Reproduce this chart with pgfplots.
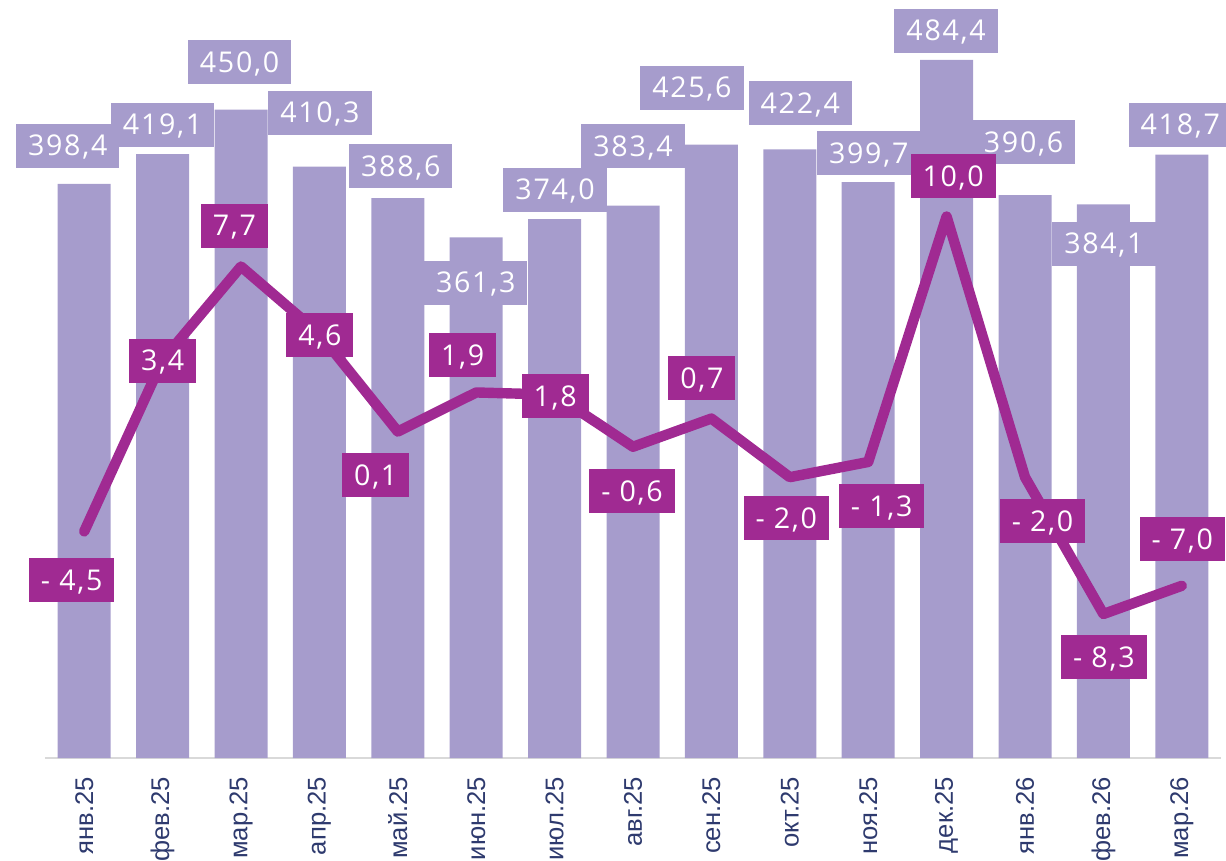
\documentclass[border=0pt]{standalone}
\usepackage{fontspec}
\setmainfont{Liberation Sans}
\newfontfamily\labfont[LetterSpace=6]{Open Sans}
\usepackage{pgfplots}
\usepackage{pgfplotstable}
\pgfplotsset{compat=1.18}
\definecolor{barcol}{HTML}{A69CCC}
\definecolor{linecol}{HTML}{A02A92}
\definecolor{tickcol}{HTML}{2E3A6E}
\definecolor{axcol}{HTML}{D9D9D9}

\pgfplotstableread{
x v dx dy lab
0 398.4 -8.25 18.95 398,4
1 419.1 0 14.55 419,1
2 450.0 -0.75 23.75 450,0
3 410.3 0.25 26.9 410,3
4 388.6 1.5 16 388,6
5 361.3 -0.25 -22.8 361,3
6 374.0 0.25 14.55 374,0
7 383.4 0 29.75 383,4
8 425.6 -9.75 28.35 425,6
9 422.4 5.25 23.15 422,4
10 399.7 0.25 14.5 399,7
11 484.4 -0.25 14.5 484,4
12 390.6 -0.75 26.55 390,6
13 384.1 0.25 -19.75 384,1
14 418.7 -0.75 14.85 418,7
}\bartable

\pgfplotstableread{
x v dx dy lab
0 -4.5 -6.25 -24.3 {- 4,5}
1 3.4 0 -0.55 3,4
2 7.7 -3.25 20.25 7,7
3 4.6 0.25 -0.6 4,6
4 0.1 -11 -21.75 0,1
5 1.9 -6.75 18.7 1,9
6 1.8 0.25 -0.7 1,8
7 -0.6 -0.5 -22.15 {- 0,6}
8 0.7 -4.75 20.25 0,7
9 -2.0 -1.75 -20.45 {- 2,0}
10 -1.3 6.75 -22.05 {- 1,3}
11 10.0 3.25 20.25 10,0
12 -2.0 8.75 -21.95 {- 2,0}
13 -8.3 0.25 -21.5 {- 8,3}
14 -7.0 0.25 23.35 {- 7,0}
}\linetable

\begin{document}
\begin{tikzpicture}
\pgfplotsset{
  lblstyle/.style={
    point meta=explicit symbolic,
    nodes near coords,
    visualization depends on={\thisrow{dx}\as\dx},
    visualization depends on={\thisrow{dy}\as\dy},
    every node near coord/.append style={
      anchor=center, xshift=\dx pt, yshift=\dy pt,
      fill=#1, text=white, inner xsep=6pt, inner ysep=0pt,
      minimum height=22pt, text height=10pt, text depth=0pt,
      font=\labfont\fontsize{14.3}{14.3}\selectfont},
  },
}
\begin{axis}[
  name=ax,
  at={(0,0)}, anchor=south west,
  scale only axis, width=588pt, height=379pt,
  xmin=-0.5, xmax=14.5, ymin=0, ymax=526,
  clip=false,
  axis x line*=bottom, axis y line=none,
  axis line style={draw=axcol, line width=0.8pt, -},
  xtick={0,...,14},
  xticklabels={янв.25,фев.25,мар.25,апр.25,май.25,июн.25,июл.25,авг.25,сен.25,окт.25,ноя.25,дек.25,янв.26,фев.26,мар.26},
  x tick label style={rotate=90, anchor=east, text=tickcol, font=\fontsize{12.8}{12.8}\selectfont},
  major tick length=0pt,
  xtick pos=bottom,
  xticklabel shift=6pt,
]
\addplot[ybar, bar width=26.5pt, fill=barcol, draw=none, lblstyle=barcol]
  table[x=x, y=v, meta=lab] {\bartable};
\end{axis}
\begin{axis}[
  at={(0,0)}, anchor=south west,
  scale only axis, width=588pt, height=379pt,
  xmin=-0.5, xmax=14.5, ymin=-14.93, ymax=19.97,
  clip=false,
  hide axis,
]
\addplot[linecol, line width=5.2pt, line cap=round, line join=round, mark=none, lblstyle=linecol]
  table[x=x, y=v, meta=lab] {\linetable};
\end{axis}
\pgfresetboundingbox
\useasboundingbox ([shift={(-22.5pt,-51pt)}]ax.south west) rectangle ([shift={(2.5pt,0pt)}]ax.north east);
\end{tikzpicture}
\end{document}
